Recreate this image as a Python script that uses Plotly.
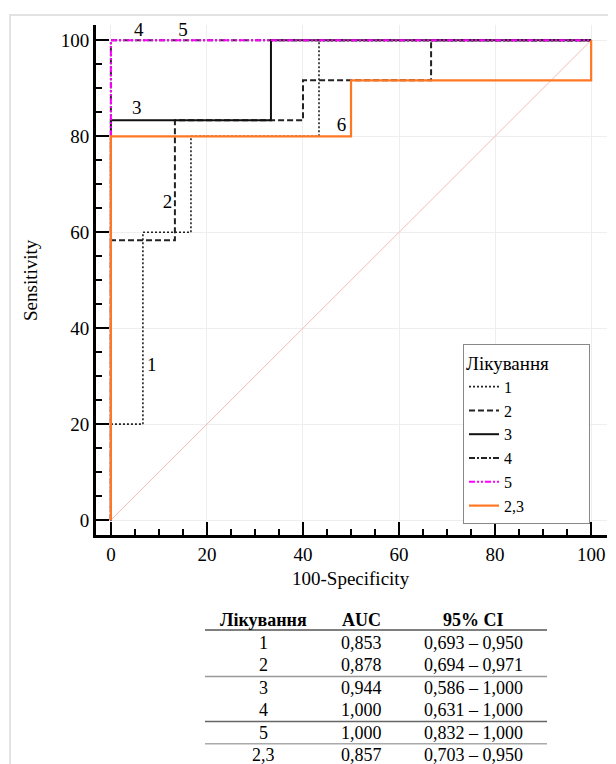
import plotly.graph_objects as go

# ---- data ----
names = ["1", "2", "3", "4", "5", "2,3"]
fpr_1 = [0, 0, 6.67, 6.67, 16.67, 16.67, 43.33, 43.33, 100]
tpr_1 = [0, 20, 20, 60, 60, 80, 80, 100, 100]
fpr_2 = [0, 0, 13.33, 13.33, 40, 40, 66.67, 66.67, 100]
tpr_2 = [0, 58.33, 58.33, 83.33, 83.33, 91.67, 91.67, 100, 100]
fpr_3 = [0, 0, 33.33, 33.33, 100]
tpr_3 = [0, 83.33, 83.33, 100, 100]
fpr_4 = [0, 0, 100]
tpr_4 = [0, 100, 100]
fpr_5 = [0, 0, 100]
tpr_5 = [0, 100, 100]
fpr_6 = [0, 0, 50, 50, 100, 100]
tpr_6 = [0, 80, 80, 91.67, 91.67, 100]

label_text = ["1", "2", "3", "4", "5", "6"]
label_x = [8.5, 11.8, 5.4, 5.8, 15.0, 48.0]
label_y = [32, 66, 85.6, 101.8, 102, 82]

tbl_treat = ["1", "2", "3", "4", "5", "2,3"]
tbl_auc = ["0,853", "0,878", "0,944", "1,000", "1,000", "0,857"]
tbl_ci = ["0,693 – 0,950", "0,694 – 0,971", "0,586 – 1,000",
          "0,631 – 1,000", "0,832 – 1,000", "0,703 – 0,950"]
tbl_headers = ["Лікування", "AUC", "95% CI"]

FONT = "Liberation Serif"

# page is shown with an 8px body margin, so the figure is 8px smaller and offset
OFF = 8
W, H = 616 - OFF, 764 - OFF
PL, PT, PR, PB = 96, 25, 607, 535          # plot area in page pixels
L, T = PL - OFF, PT - OFF
R = W - (PR - OFF)
B = H - (PB - OFF)


def px(x):
    return (x - PL) / (PR - PL)


def py(y):
    return (PB - y) / (PB - PT)


fig = go.Figure()

# chance diagonal
fig.add_trace(go.Scatter(x=[0, 100], y=[0, 100], mode="lines",
                         line=dict(color="#f3bcb6", width=1),
                         showlegend=False, hoverinfo="skip"))

# drawing order: 1, 2, 3, 4, 5 (magenta), 2,3 (orange on top)
styles = [
    (fpr_1, tpr_1, names[0], dict(color="#222222", width=1.6, dash="2px,2px")),
    (fpr_2, tpr_2, names[1], dict(color="#222222", width=2, dash="6px,3px")),
    (fpr_3, tpr_3, names[2], dict(color="#111111", width=2, dash="solid")),
    (fpr_4, tpr_4, names[3], dict(color="#222222", width=2, dash="6px,2px,2px,2px")),
    (fpr_5, tpr_5, names[4], dict(color="#ff00ff", width=2, dash="6px,2px,2px,2px,2px,2px")),
    (fpr_6, tpr_6, names[5], dict(color="#ff7722", width=2.2, dash="solid")),
]
for rk, (xs, ys, nm, ln) in enumerate(styles, start=1):
    fig.add_trace(go.Scatter(x=xs, y=ys, mode="lines", line=ln, name=nm,
                             legendrank=rk))

# curve labels
fig.add_trace(go.Scatter(x=label_x, y=label_y, mode="text", text=label_text,
                         textfont=dict(family=FONT, size=19, color="black"),
                         cliponaxis=False, showlegend=False, hoverinfo="skip"))

ann = []
# axis titles
ann.append(dict(text="100-Specificity", x=px(351), y=py(578), xref="paper", yref="paper",
                xanchor="center", yanchor="middle",
                showarrow=False, font=dict(family=FONT, size=19, color="black")))
ann.append(dict(text="Sensitivity", x=px(30), y=py(280), xref="paper", yref="paper",
                xanchor="center", yanchor="middle",
                showarrow=False, textangle=-90, font=dict(family=FONT, size=19, color="black")))

# table
col_x = [263, 361, 473]
head_y = 620
row_y0 = 643
row_dy = 22.4
for cx, h in zip(col_x, tbl_headers):
    ann.append(dict(text="<b>" + h + "</b>", x=px(cx), y=py(head_y), xref="paper", yref="paper",
                    xanchor="center", yanchor="middle",
                    showarrow=False, font=dict(family=FONT, size=18, color="black")))
for i, (a, b, c) in enumerate(zip(tbl_treat, tbl_auc, tbl_ci)):
    yy = row_y0 + i * row_dy
    for cx, t in zip(col_x, (a, b, c)):
        ann.append(dict(text=t, x=px(cx), y=py(yy), xref="paper", yref="paper",
                        xanchor="center", yanchor="middle",
                        showarrow=False, font=dict(family=FONT, size=18, color="black")))

shapes = []
sep_after = [1, 3, 4]
line_ys = [630] + [row_y0 + (k + 0.5) * row_dy for k in sep_after]
line_cols = ["#555555", "#999999", "#666666", "#aaaaaa"]
for ly, lc in zip(line_ys, line_cols):
    shapes.append(dict(type="line", xref="paper", yref="paper",
                       x0=px(205), x1=px(547), y0=py(ly), y1=py(ly),
                       line=dict(color=lc, width=1.5)))
# outer frame
shapes.append(dict(type="rect", xref="paper", yref="paper",
                   x0=px(10), x1=px(640), y0=py(15), y1=py(800),
                   line=dict(color="#e2e2e2", width=2), layer="below"))

axis_common = dict(
    showline=True, linecolor="black", linewidth=3, mirror=False,
    showgrid=True, gridcolor="#eeeeee", gridwidth=1,
    zeroline=False, ticks="inside", ticklen=13, tickwidth=2, tickcolor="black",
    tick0=0, dtick=20,
    tickfont=dict(family=FONT, size=19, color="black"),
    minor=dict(ticks="inside", ticklen=6, tickwidth=1.5, tickcolor="black",
               dtick=5, tick0=0, showgrid=False),
)

fig.update_layout(
    width=W, height=H,
    margin=dict(l=L, r=R, t=T, b=B, autoexpand=False),
    paper_bgcolor="white", plot_bgcolor="white",
    xaxis=dict(range=[-3.1, 103.3], **axis_common),
    yaxis=dict(range=[-3.1, 103.2], **axis_common),
    legend=dict(x=px(463), y=py(344), xanchor="left", yanchor="top",
                bgcolor="white", bordercolor="#888888", borderwidth=1,
                font=dict(family=FONT, size=16, color="black"),
                title=dict(text="Лікування" + "&nbsp;" * 8,
                           font=dict(family=FONT, size=19, color="black")),
                itemwidth=30, tracegroupgap=0),
    annotations=ann, shapes=shapes,
    font=dict(family=FONT, color="black"),
)

fig.write_html("out.html")
